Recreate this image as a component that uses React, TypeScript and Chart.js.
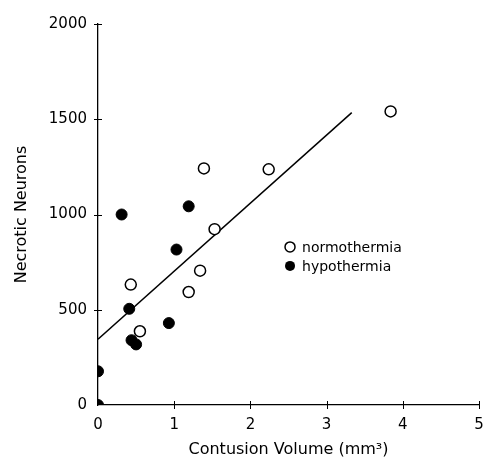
import React, { useEffect, useRef } from 'react';
import { Chart, registerables } from 'chart.js';
Chart.register(...registerables);

const xTicks = [0, 1, 2, 3, 4, 5];
const yTicks = [0, 500, 1000, 1500, 2000];
const normoX = [0.43, 0.55, 1.19, 1.34, 1.39, 1.53, 2.24, 3.84];
const normoY = [632, 387, 593, 705, 1242, 923, 1237, 1541];
const hypoX = [0, 0, 0.31, 0.41, 0.44, 0.5, 0.93, 1.03, 1.19];
const hypoY = [0, 177, 1000, 505, 340, 318, 430, 816, 1043];
const fitX = [0, 3.33];
const fitY = [345, 1535];
const seriesNames = ['normothermia', 'hypothermia'];
const xTitle = 'Contusion Volume (mm\u00B3)';
const yTitle = 'Necrotic Neurons';
const legendAnchor = { x: 2.52, y: 830 };

const FONT = "'DejaVu Sans', sans-serif";

const crossTicks = {
  id: 'crossTicks',
  afterDraw(chart: any) {
    const ctx = chart.ctx;
    const xs = chart.scales.x;
    const ys = chart.scales.y;
    ctx.save();
    ctx.strokeStyle = '#000';
    ctx.lineWidth = 1;
    xTicks.forEach((v) => {
      const px = Math.round(xs.getPixelForValue(v)) + 0.5;
      if (v === 0) return;
      ctx.beginPath();
      ctx.moveTo(px, ys.bottom - 4);
      ctx.lineTo(px, ys.bottom + 4);
      ctx.stroke();
    });
    yTicks.forEach((v) => {
      const py = Math.round(ys.getPixelForValue(v)) + 0.5;
      if (v === 0) return;
      ctx.beginPath();
      ctx.moveTo(xs.left - 4, py);
      ctx.lineTo(xs.left + 4, py);
      ctx.stroke();
    });
    // legend
    const lx = xs.getPixelForValue(legendAnchor.x);
    const ly = ys.getPixelForValue(legendAnchor.y);
    ctx.font = `14px ${FONT}`;
    ctx.textBaseline = 'middle';
    ctx.fillStyle = '#000';
    seriesNames.forEach((name, i) => {
      const cy = ly + i * 19;
      ctx.beginPath();
      ctx.arc(lx, cy, 5, 0, Math.PI * 2);
      if (i === 0) {
        ctx.fillStyle = '#fff';
        ctx.fill();
        ctx.lineWidth = 1.5;
        ctx.stroke();
      } else {
        ctx.fillStyle = '#000';
        ctx.fill();
      }
      ctx.fillStyle = '#000';
      ctx.fillText(name, lx + 12, cy + 1);
    });
    ctx.restore();
  },
};

export default function App() {
  const ref = useRef<HTMLCanvasElement>(null);
  useEffect(() => {
    if (!ref.current) return;
    const chart = new Chart(ref.current, {
      type: 'scatter',
      data: {
        datasets: [
          {
            type: 'line',
            label: 'fit',
            data: fitX.map((x, i) => ({ x, y: fitY[i] })),
            borderColor: '#000',
            borderWidth: 1.5,
            pointRadius: 0,
            fill: false,
            order: 3,
          } as any,
          {
            label: seriesNames[0],
            data: normoX.map((x, i) => ({ x, y: normoY[i] })),
            pointRadius: 5.5,
            pointBackgroundColor: '#fff',
            pointBorderColor: '#000',
            pointBorderWidth: 1.5,
            order: 1,
          },
          {
            label: seriesNames[1],
            data: hypoX.map((x, i) => ({ x, y: hypoY[i] })),
            pointRadius: 5.5,
            pointBackgroundColor: '#000',
            pointBorderColor: '#000',
            pointBorderWidth: 1,
            order: 2,
          },
        ],
      },
      options: {
        responsive: false,
        animation: false,
        layout: { padding: { top: 24, right: 6, left: 0, bottom: 0 } },
        plugins: { legend: { display: false }, tooltip: { enabled: false } },
        scales: {
          x: {
            type: 'linear',
            min: 0,
            max: 5,
            afterFit: (s: any) => {
              s.height = 62;
              s.paddingLeft = 0;
              s.paddingRight = 0;
            },
            afterBuildTicks: (s: any) => {
              s.ticks = xTicks.map((v) => ({ value: v }));
            },
            grid: { display: false },
            border: { display: true, color: '#000', width: 1.3 },
            ticks: {
              color: '#000',
              font: { family: FONT, size: 15 },
              padding: 3,
              maxRotation: 0,
              callback: (v: any) => String(v),
            },
            title: {
              display: true,
              text: xTitle,
              color: '#000',
              font: { family: FONT, size: 16 },
              padding: { top: 3, bottom: 8 },
            },
          },
          y: {
            type: 'linear',
            min: 0,
            max: 2000,
            afterFit: (s: any) => {
              s.width = 98;
              s.paddingTop = 0;
              s.paddingBottom = 0;
            },
            afterBuildTicks: (s: any) => {
              s.ticks = yTicks.map((v) => ({ value: v }));
            },
            grid: { display: false },
            border: { display: true, color: '#000', width: 1.3 },
            ticks: {
              color: '#000',
              font: { family: FONT, size: 15 },
              padding: 3,
              callback: (v: any) => String(v),
            },
            title: {
              display: true,
              text: yTitle,
              color: '#000',
              font: { family: FONT, size: 16 },
              padding: { top: 12, bottom: 0 },
            },
          },
        },
      },
      plugins: [crossTicks],
    });
    return () => chart.destroy();
  }, []);
  return (
    <div style={{ position: 'fixed', left: 0, top: 0, width: 486, height: 467, background: '#fff' }}>
      <canvas ref={ref} width={486} height={467} />
    </div>
  );
}
